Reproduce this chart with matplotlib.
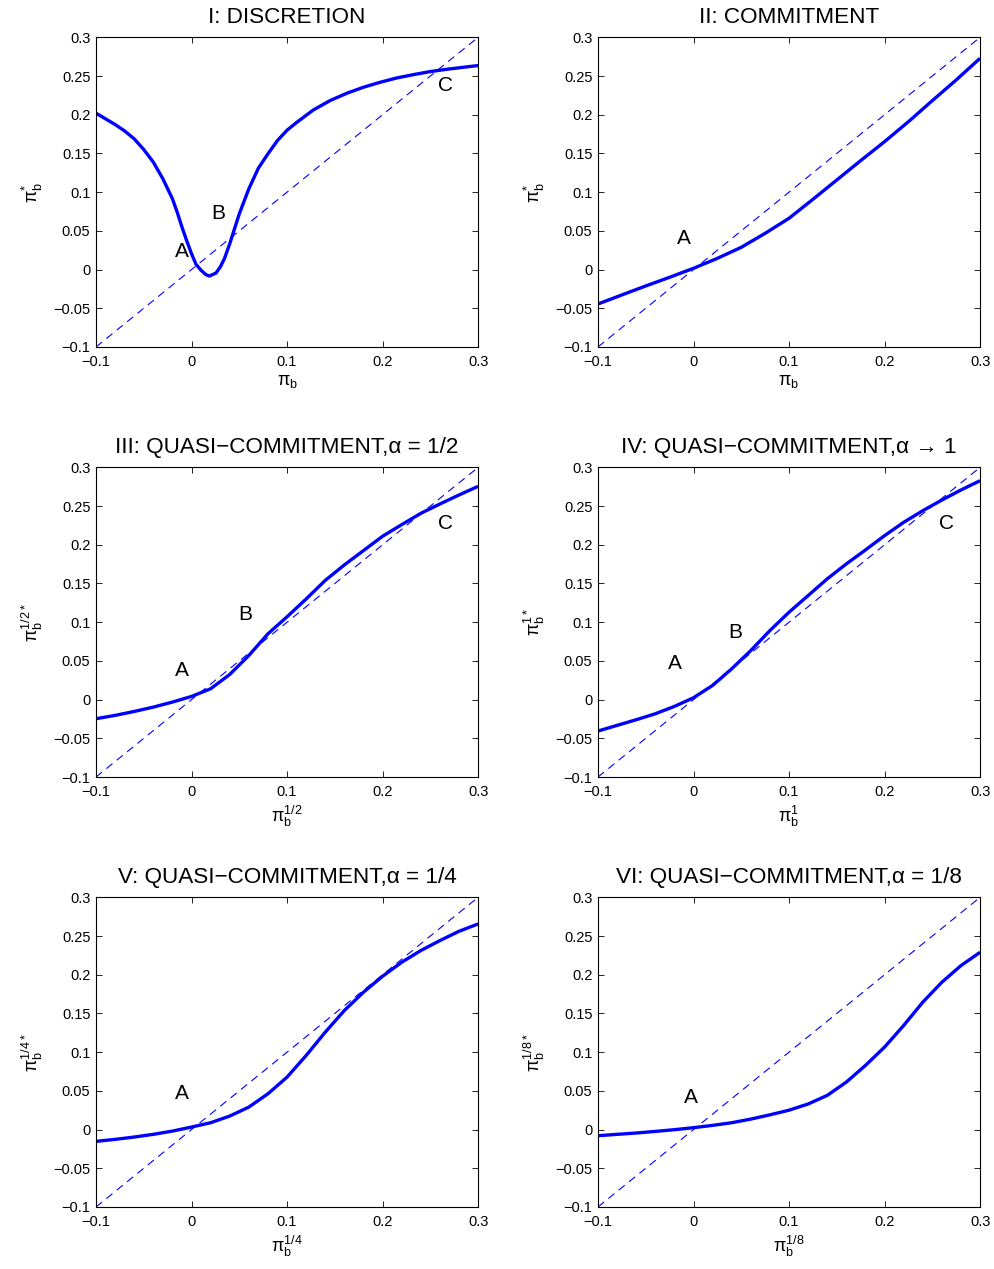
import numpy as np
import matplotlib
matplotlib.use("Agg")
import matplotlib.pyplot as plt
from matplotlib.ticker import FuncFormatter

plt.rcParams['font.family'] = ['Liberation Sans', 'DejaVu Sans']
plt.rcParams['mathtext.fontset'] = 'custom'
plt.rcParams['mathtext.rm'] = 'Liberation Sans'
plt.rcParams['mathtext.it'] = 'Liberation Sans'
plt.rcParams['mathtext.default'] = 'regular'

# ---- data ----
x1 = [-0.1, -0.08, -0.07, -0.06, -0.05, -0.04, -0.03, -0.02, -0.015, -0.01, -0.005, 0.0, 0.0047,
      0.01, 0.015, 0.0187, 0.0256, 0.03, 0.0344, 0.04,
      0.05, 0.06, 0.07, 0.08, 0.09, 0.1, 0.11, 0.1276, 0.1451, 0.1625, 0.18, 0.1974,
      0.2149, 0.2324, 0.2498, 0.2673, 0.2847, 0.3]
y1 = [0.202, 0.1873, 0.179, 0.1688, 0.155, 0.1387, 0.1172, 0.0914, 0.074, 0.0548, 0.037, 0.0204, 0.0067,
      -0.001, -0.0065, -0.0084, -0.0045, 0.0032, 0.014, 0.0333,
      0.072, 0.1043, 0.131, 0.1495, 0.1667, 0.180, 0.190, 0.2062, 0.2183, 0.2277, 0.2355, 0.2419,
      0.2475, 0.2518, 0.2557, 0.2587, 0.2613, 0.2635]

x2 = [-0.1, -0.075, -0.05, -0.025, 0.0, 0.025, 0.05, 0.075, 0.1, 0.125, 0.15, 0.175,
      0.2, 0.225, 0.25, 0.275, 0.3]
y2 = [-0.0445, -0.0328, -0.0212, -0.010, 0.0016, 0.0145, 0.0287, 0.0468, 0.0662, 0.0907, 0.1157, 0.1407,
      0.1652, 0.191, 0.2182, 0.2449, 0.2729]

x_grid = [-0.1, -0.08, -0.06, -0.04, -0.02, 0.0, 0.02, 0.04, 0.06, 0.08, 0.1,
          0.12, 0.14, 0.16, 0.18, 0.2, 0.22, 0.24, 0.26, 0.28, 0.3]
y3 = [-0.0247, -0.0204, -0.0153, -0.0097, -0.0032, 0.0041, 0.014, 0.0325, 0.057, 0.085, 0.107,
      0.130, 0.154, 0.174, 0.1925, 0.211, 0.226, 0.2406, 0.2527, 0.2643, 0.2755]
y4 = [-0.0406, -0.0333, -0.026, -0.0183, -0.0088, 0.0024, 0.0183, 0.0398, 0.0634, 0.0892, 0.1129,
      0.1344, 0.156, 0.1753, 0.1933, 0.2118, 0.229, 0.244, 0.2578, 0.2708, 0.2828]
y5 = [-0.0153, -0.0127, -0.0097, -0.0062, -0.002, 0.0032, 0.0088, 0.0174, 0.029, 0.0462, 0.0677,
      0.0957, 0.1258, 0.1538, 0.1774, 0.198, 0.2161, 0.2312, 0.2441, 0.2561, 0.2656]
y6 = [-0.008, -0.0062, -0.0045, -0.0024, -0.0002, 0.0024, 0.0054, 0.0088, 0.0135, 0.019, 0.025,
      0.033, 0.0441, 0.0613, 0.0828, 0.1065, 0.1344, 0.1645, 0.1903, 0.2118, 0.229]

titles = ["I: DISCRETION", "II: COMMITMENT",
          "III: QUASI\u2212COMMITMENT,\u03b1 = 1/2", "IV: QUASI\u2212COMMITMENT,\u03b1 \u2192 1",
          "V: QUASI\u2212COMMITMENT,\u03b1 = 1/4", "VI: QUASI\u2212COMMITMENT,\u03b1 = 1/8"]
xlabels = [r"$\pi_b$", r"$\pi_b$", r"$\pi_b^{1/2}$", r"$\pi_b^{1}$", r"$\pi_b^{1/4}$", r"$\pi_b^{1/8}$"]
ylabels = [r"$\pi_b^{*}$", r"$\pi_b^{*}$", r"$\pi_b^{1/2*}$", r"$\pi_b^{1*}$", r"$\pi_b^{1/4*}$", r"$\pi_b^{1/8*}$"]

point_labels = [
    [("A", -0.01, 0.023), ("B", 0.028, 0.073), ("C", 0.266, 0.238)],
    [("A", -0.01, 0.040)],
    [("A", -0.01, 0.0376), ("B", 0.0564, 0.1095), ("C", 0.266, 0.227)],
    [("A", -0.019, 0.0462), ("B", 0.0438, 0.087), ("C", 0.2644, 0.227)],
    [("A", -0.01, 0.047)],
    [("A", -0.003, 0.0419)],
]

xs = [x1, x2, x_grid, x_grid, x_grid, x_grid]
ys = [y1, y2, y3, y4, y5, y6]
diag = [-0.1, 0.3]
xticks = [-0.1, 0, 0.1, 0.2, 0.3]
yticks = [-0.1, -0.05, 0, 0.05, 0.1, 0.15, 0.2, 0.25, 0.3]

def fmt(v, pos):
    s = "%g" % round(v, 4)
    return s.replace("-", "\u2212")

fig = plt.figure(figsize=(9.95, 12.69), dpi=100)
lefts = [0.0965, 0.601]
bottoms = [0.7266, 0.3877, 0.0489]
w, h = 0.384, 0.2440

for i in range(6):
    r, c = divmod(i, 2)
    ax = fig.add_axes([lefts[c], bottoms[r], w, h])
    ax.plot(diag, diag, color=(0, 0, 1), lw=0.8, dashes=(7, 5))
    ax.plot(xs[i], ys[i], color=(0, 0, 1), lw=2.4, solid_joinstyle='round', solid_capstyle='butt')
    for lab, lx, ly in point_labels[i]:
        ax.text(lx, ly, lab, fontsize=15, ha='center', va='center')
    ax.set_xlim(-0.1, 0.3)
    ax.set_ylim(-0.1, 0.3)
    ax.set_xticks(xticks)
    ax.set_yticks(yticks)
    ax.xaxis.set_major_formatter(FuncFormatter(fmt))
    ax.yaxis.set_major_formatter(FuncFormatter(fmt))
    ax.tick_params(direction='in', top=True, right=True, labelsize=10.5, length=4, width=0.6)
    ax.tick_params(axis='x', pad=6)
    ax.tick_params(axis='y', pad=4)
    for sp in ax.spines.values():
        sp.set_linewidth(0.8)
    ax.set_title(titles[i], fontsize=16.2, pad=10)
    ax.set_xlabel(xlabels[i], fontsize=13, labelpad=3)
    ax.set_ylabel(ylabels[i], fontsize=13, labelpad=6)

fig.savefig("out.png", dpi=100)
